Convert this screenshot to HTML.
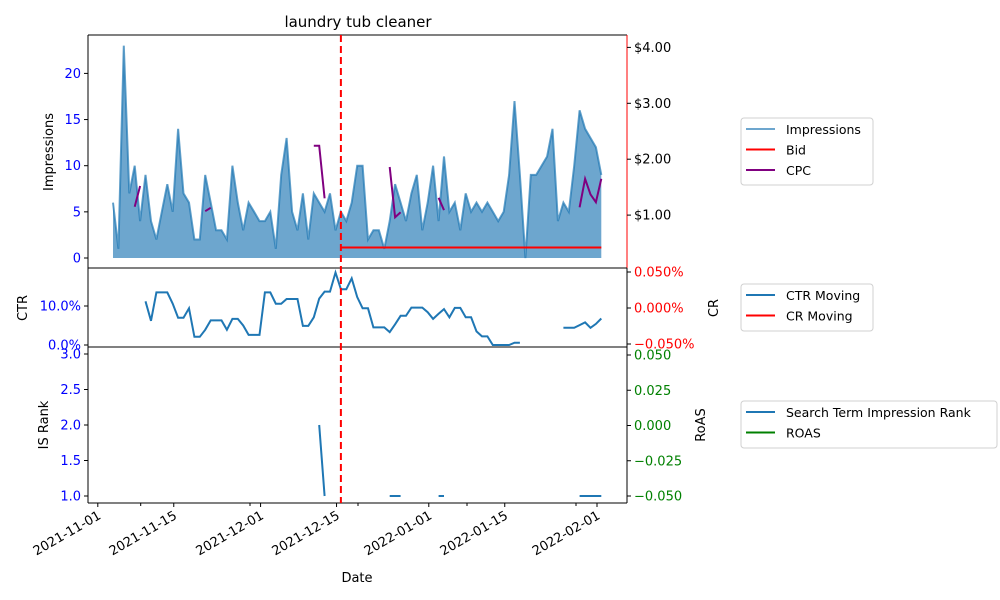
<!DOCTYPE html>
<html><head><meta charset="utf-8"><style>
body{margin:0;background:#fff}
svg{display:block;font-family:"DejaVu Sans","Liberation Sans",sans-serif}
</style></head><body>
<svg id="c" width="1000" height="600" viewBox="0 0 1000 600" xmlns="http://www.w3.org/2000/svg"></svg>
<script>
const impressions=[6,1,23,7,10,4,9,4,2,5,8,5,14,7,6,2,2,9,6,3,3,2,10,6,3,6,5,4,4,5,1,9,13,5,3,7,2,7,6,5,7,3,
5,4,6,10,10,2,3,3,1,4,8,6,4,7,9,3,6,10,4,11,5,6,3,7,5,6,5,6,5,4,5,9,17,9,0,9,9,10,11,14,4,6,5,10,16,14,13,12,9];
const N=impressions.length;
const bidValue=0.42, bidStartIdx=42;
const cpcIdx=[4,5,17,18,37,38,39,51,52,53,60,61,86,87,88,89,90];
const cpcVal=[1.15,1.52,1.07,1.13,2.24,2.24,1.30,1.86,0.96,1.05,1.31,1.09,1.14,1.65,1.37,1.23,1.65];
const ctrIdx=[6,7,8,9,10,11,12,13,14,15,16,17,18,19,20,21,22,23,24,25,26,27,28,29,30,31,32,33,34,35,36,37,38,39,40,41,42,43,44,45,46,47,48,49,50,51,52,53,54,55,56,57,58,59,60,61,62,63,64,65,66,67,68,69,70,71,72,73,74,75,83,84,85,86,87,88,89,90];
const ctrVal=[11.2,6.2,13.5,13.5,13.5,10.6,7.0,7.0,9.4,2.1,2.1,3.9,6.3,6.3,6.3,3.9,6.7,6.7,5.0,2.6,2.6,2.6,13.5,13.5,10.6,10.6,11.8,11.8,11.8,4.9,4.9,7.1,11.9,13.7,13.7,18.6,14.3,14.3,17.1,12.3,9.4,9.4,4.5,4.5,4.5,3.3,5.3,7.5,7.5,9.6,9.6,9.6,8.4,6.7,8.0,9.2,7.1,9.5,9.5,7.1,7.1,3.5,2.2,2.2,0,0,0,0,0.6,0.6,4.4,4.4,4.4,5.1,5.8,4.4,5.4,6.8];
const rankIdx=[38,39,51,52,53,60,61,86,87,88,89,90];
const rankVal=[2.0,1.0,1,1,1,1,1,1,1,1,1,1];
const dateLabels=["2021-11-01","2021-11-15","2021-12-01","2021-12-15","2022-01-01","2022-01-15","2022-02-01"];
const dateDays=[0,14,30,44,61,75,92];
const impTicks=[0,5,10,15,20];
const cpcTicks=[1,2,3,4];
const ctrTicks=[0,10];
const crTicks=[0.05,0,-0.05];
const rankTicks=[1.0,1.5,2.0,2.5,3.0];
const roasTicks=[0.05,0.025,0,-0.025,-0.05];
const firstDay=2.8, changeDay=44.8;

const NS="http://www.w3.org/2000/svg";
const svg=document.getElementById('c');
function mk(t,a,p){const e=document.createElementNS(NS,t);for(const k in a)e.setAttribute(k,a[k]);(p||svg).appendChild(e);return e;}
const L=88,R=627,T1=35,B1=268,B2=347,B3=503;
const xDay=d=>97.8+5.426*d;
const xIdx=i=>xDay(firstDay+i);
const yImp=v=>258-9.23*v;
const yCpc=v=>271-55.9*v;
const yCtr=v=>345-3.9*v;
const yCr=v=>308-720*v;
const yRank=v=>496-71*(v-1);
const yRoas=v=>425.5-1410*v;

function segPath(idx,val,xf,yf){let d='';for(let k=0;k<idx.length;k++){const c=(k>0&&idx[k]===idx[k-1]+1)?'L':'M';d+=c+xf(idx[k]).toFixed(1)+','+yf(val[k]).toFixed(1)+' ';}return d;}

let ad='M'+xIdx(0)+','+yImp(0)+' ';
impressions.forEach((v,i)=>ad+='L'+xIdx(i).toFixed(1)+','+yImp(v).toFixed(1)+' ');
ad+='L'+xIdx(N-1).toFixed(1)+','+yImp(0)+' Z';
const area=mk('path',{d:ad,fill:'#1f77b4','fill-opacity':0.65});


let ld='';impressions.forEach((v,i)=>ld+=(i?'L':'M')+xIdx(i).toFixed(1)+','+yImp(v).toFixed(1)+' ');
const iline=mk('path',{d:ld,fill:'none',stroke:'#1f77b4','stroke-opacity':0.7,'stroke-width':2});


const bid=mk('line',{x1:xIdx(bidStartIdx),x2:xIdx(N-1),y1:yCpc(bidValue),y2:yCpc(bidValue),stroke:'#ff0000','stroke-width':2});


const cpc=mk('path',{d:segPath(cpcIdx,cpcVal,xIdx,yCpc),fill:'none',stroke:'#800080','stroke-width':2});


const ctr=mk('path',{d:segPath(ctrIdx,ctrVal,xIdx,yCtr),fill:'none',stroke:'#1f77b4','stroke-width':2});


const rk=mk('path',{d:segPath(rankIdx,rankVal,xIdx,yRank),fill:'none',stroke:'#1f77b4','stroke-width':2});



function rect(y1,y2,name,rc){const g=mk('g',{});
mk('line',{x1:L,x2:R,y1:y1,y2:y1,stroke:'#000'},g);mk('line',{x1:L,x2:R,y1:y2,y2:y2,stroke:'#000'},g);
mk('line',{x1:L,x2:L,y1:y1,y2:y2,stroke:'#000'},g);mk('line',{x1:R,x2:R,y1:y1,y2:y2,stroke:rc||'#000'},g);}
rect(T1,B1,'impressions-panel','#ff0000');rect(B1,B2,'ctr-panel');rect(B2,B3,'is-rank-panel');

const cl=mk('line',{x1:xDay(changeDay),x2:xDay(changeDay),y1:T1,y2:B3,stroke:'#ff0000','stroke-width':2,'stroke-dasharray':'7,4'});



function txt(x,y,s,opt,name){const e=mk('text',Object.assign({x:x,y:y,'font-size':13,fill:'#000'},opt||{}));e.textContent=s;return e;}
function lticks(ticks,yf,fmt,col,name){ticks.forEach(t=>{const y=yf(t);mk('line',{x1:L-4,x2:L,y1:y,y2:y,stroke:'#000'});txt(L-7,y+4.5,fmt(t),{'text-anchor':'end',fill:col},name);});}
function rticks(ticks,yf,fmt,col,name){ticks.forEach(t=>{const y=yf(t);mk('line',{x1:R,x2:R+4,y1:y,y2:y,stroke:'#000'});txt(R+7,y+4.5,fmt(t),{fill:col},name);});}
lticks(impTicks,yImp,t=>t,'#0000ff','impressions-tick');
rticks(cpcTicks,yCpc,t=>'$'+t.toFixed(2),'#000','cpc-tick');
lticks(ctrTicks,yCtr,t=>t.toFixed(1)+'%','#0000ff','ctr-tick');
rticks(crTicks,yCr,t=>(t<0?'\u2212':'')+Math.abs(t).toFixed(3)+'%','#ff0000','cr-tick');
lticks(rankTicks,yRank,t=>t.toFixed(1),'#0000ff','rank-tick');
rticks(roasTicks,yRoas,t=>(t<0?'\u2212':'')+Math.abs(t).toFixed(3),'#008000','roas-tick');

dateDays.forEach((d,k)=>{const x=xDay(d);mk('line',{x1:x,x2:x,y1:B3,y2:B3+4,stroke:'#000'});
txt(x,B3+16,dateLabels[k],{'text-anchor':'end',transform:'rotate(-30 '+x+' '+(B3+8)+')'},'x-tick-label');});
[140.7,250,358,467,576].forEach(x=>mk('line',{x1:x,x2:x,y1:B3,y2:B3+3,stroke:'#000'}));

txt(358,27,'laundry tub cleaner',{'text-anchor':'middle','font-size':15},'chart-title');
txt(357,582,'Date',{'text-anchor':'middle'},'x-axis-title');
txt(53,152,'Impressions',{'text-anchor':'middle',transform:'rotate(-90 53 152)'},'impressions-axis-title');
txt(27,308,'CTR',{'text-anchor':'middle',transform:'rotate(-90 27 308)'},'ctr-axis-title');
txt(48,425,'IS Rank',{'text-anchor':'middle',transform:'rotate(-90 48 425)'},'is-rank-axis-title');
txt(718,308,'CR',{'text-anchor':'middle',transform:'rotate(-90 718 308)'},'cr-axis-title');
txt(705,425,'RoAS',{'text-anchor':'middle',transform:'rotate(-90 705 425)'},'roas-axis-title');

function legend(x,y,w,items,name){const g=mk('g',{});
mk('rect',{x:x,y:y,width:w,height:items.length*20+7,rx:3,fill:'#fff',stroke:'#d0d0d0'},g);
items.forEach((it,k)=>{const yy=y+11+k*20.5;mk('line',{x1:x+5,x2:x+34,y1:yy,y2:yy,stroke:it[1],'stroke-width':2,'stroke-opacity':it[2]||1},g);
const t=mk('text',{x:x+45,y:yy+5,'font-size':12.5,fill:'#000'},g);t.textContent=it[0];});}
legend(741,118,132,[['Impressions','#1f77b4',0.65],['Bid','#ff0000'],['CPC','#800080']],'legend-impressions');
legend(741,284,132,[['CTR Moving','#1f77b4'],['CR Moving','#ff0000']],'legend-ctr');
legend(741,401,256,[['Search Term Impression Rank','#1f77b4'],['ROAS','#008000']],'legend-rank');
</script>
</body></html>
